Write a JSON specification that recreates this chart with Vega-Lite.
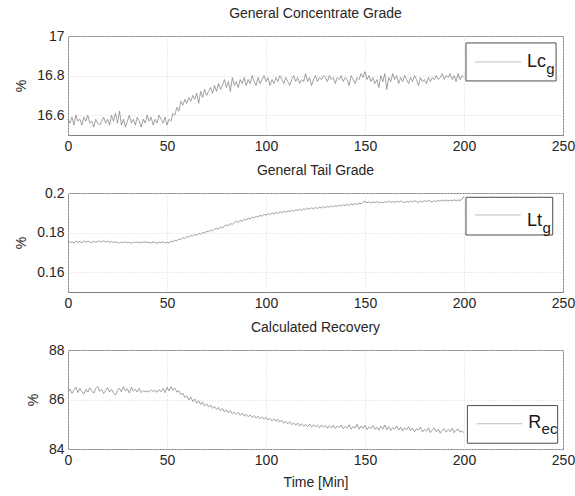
{
  "$schema": "https://vega.github.io/schema/vega-lite/v6.json",
  "background": "white",
  "padding": {"left": 14, "top": 6, "right": 5, "bottom": 5},
  "bounds": "flush",
  "spacing": 58,
  "datasets": {
    "process": [
      {"t":0,"lc":16.58,"lt":0.1756,"r":86.30},{"t":1,"lc":16.56,"lt":0.1750,"r":86.42},{"t":2,"lc":16.59,"lt":0.1754,"r":86.25},{"t":3,"lc":16.55,"lt":0.1748,"r":86.38},{"t":4,"lc":16.60,"lt":0.1757,"r":86.50},
      {"t":5,"lc":16.57,"lt":0.1751,"r":86.28},{"t":6,"lc":16.58,"lt":0.1755,"r":86.45},{"t":7,"lc":16.55,"lt":0.1749,"r":86.32},{"t":8,"lc":16.59,"lt":0.1758,"r":86.22},{"t":9,"lc":16.57,"lt":0.1752,"r":86.40},
      {"t":10,"lc":16.60,"lt":0.1756,"r":86.30},{"t":11,"lc":16.56,"lt":0.1753,"r":86.47},{"t":12,"lc":16.57,"lt":0.1749,"r":86.35},{"t":13,"lc":16.54,"lt":0.1757,"r":86.26},{"t":14,"lc":16.58,"lt":0.1751,"r":86.44},
      {"t":15,"lc":16.56,"lt":0.1754,"r":86.52},{"t":16,"lc":16.55,"lt":0.1758,"r":86.33},{"t":17,"lc":16.57,"lt":0.1752,"r":86.41},{"t":18,"lc":16.59,"lt":0.1760,"r":86.24},{"t":19,"lc":16.56,"lt":0.1753,"r":86.36},
      {"t":20,"lc":16.58,"lt":0.1756,"r":86.48},{"t":21,"lc":16.55,"lt":0.1750,"r":86.30},{"t":22,"lc":16.60,"lt":0.1755,"r":86.40},{"t":23,"lc":16.57,"lt":0.1749,"r":86.27},{"t":24,"lc":16.61,"lt":0.1753,"r":86.18},
      {"t":25,"lc":16.56,"lt":0.1751,"r":86.38},{"t":26,"lc":16.62,"lt":0.1747,"r":86.46},{"t":27,"lc":16.55,"lt":0.1752,"r":86.31},{"t":28,"lc":16.58,"lt":0.1749,"r":86.52},{"t":29,"lc":16.54,"lt":0.1754,"r":86.35},
      {"t":30,"lc":16.57,"lt":0.1748,"r":86.44},{"t":31,"lc":16.60,"lt":0.1751,"r":86.26},{"t":32,"lc":16.56,"lt":0.1746,"r":86.50},{"t":33,"lc":16.58,"lt":0.1752,"r":86.34},{"t":34,"lc":16.55,"lt":0.1750,"r":86.42},
      {"t":35,"lc":16.59,"lt":0.1753,"r":86.30},{"t":36,"lc":16.57,"lt":0.1748,"r":86.45},{"t":37,"lc":16.54,"lt":0.1752,"r":86.28},{"t":38,"lc":16.58,"lt":0.1750,"r":86.36},{"t":39,"lc":16.56,"lt":0.1754,"r":86.32},
      {"t":40,"lc":16.60,"lt":0.1749,"r":86.34},{"t":41,"lc":16.57,"lt":0.1751,"r":86.30},{"t":42,"lc":16.59,"lt":0.1748,"r":86.38},{"t":43,"lc":16.55,"lt":0.1753,"r":86.33},{"t":44,"lc":16.58,"lt":0.1750,"r":86.36},
      {"t":45,"lc":16.56,"lt":0.1746,"r":86.29},{"t":46,"lc":16.60,"lt":0.1752,"r":86.40},{"t":47,"lc":16.58,"lt":0.1749,"r":86.31},{"t":48,"lc":16.56,"lt":0.1754,"r":86.44},{"t":49,"lc":16.59,"lt":0.1747,"r":86.28},
      {"t":50,"lc":16.55,"lt":0.1751,"r":86.50},{"t":51,"lc":16.58,"lt":0.1748,"r":86.35},{"t":52,"lc":16.57,"lt":0.1756,"r":86.52},{"t":53,"lc":16.61,"lt":0.1753,"r":86.38},{"t":54,"lc":16.60,"lt":0.1762,"r":86.46},
      {"t":55,"lc":16.64,"lt":0.1758,"r":86.30},{"t":56,"lc":16.62,"lt":0.1768,"r":86.35},{"t":57,"lc":16.67,"lt":0.1764,"r":86.20},{"t":58,"lc":16.65,"lt":0.1775,"r":86.25},{"t":59,"lc":16.68,"lt":0.1770,"r":86.08},
      {"t":60,"lc":16.66,"lt":0.1781,"r":86.15},{"t":61,"lc":16.69,"lt":0.1776,"r":85.98},{"t":62,"lc":16.67,"lt":0.1786,"r":86.10},{"t":63,"lc":16.70,"lt":0.1782,"r":85.92},{"t":64,"lc":16.68,"lt":0.1791,"r":86.02},
      {"t":65,"lc":16.71,"lt":0.1787,"r":85.85},{"t":66,"lc":16.66,"lt":0.1796,"r":85.95},{"t":67,"lc":16.72,"lt":0.1792,"r":85.80},{"t":68,"lc":16.69,"lt":0.1801,"r":85.90},{"t":69,"lc":16.73,"lt":0.1797,"r":85.74},
      {"t":70,"lc":16.70,"lt":0.1807,"r":85.82},{"t":71,"lc":16.72,"lt":0.1803,"r":85.70},{"t":72,"lc":16.74,"lt":0.1813,"r":85.78},{"t":73,"lc":16.71,"lt":0.1809,"r":85.64},{"t":74,"lc":16.75,"lt":0.1818,"r":85.72},
      {"t":75,"lc":16.72,"lt":0.1822,"r":85.60},{"t":76,"lc":16.76,"lt":0.1817,"r":85.68},{"t":77,"lc":16.73,"lt":0.1828,"r":85.55},{"t":78,"lc":16.75,"lt":0.1823,"r":85.64},{"t":79,"lc":16.78,"lt":0.1834,"r":85.50},
      {"t":80,"lc":16.74,"lt":0.1839,"r":85.58},{"t":81,"lc":16.77,"lt":0.1834,"r":85.46},{"t":82,"lc":16.72,"lt":0.1846,"r":85.55},{"t":83,"lc":16.79,"lt":0.1841,"r":85.42},{"t":84,"lc":16.75,"lt":0.1852,"r":85.50},
      {"t":85,"lc":16.77,"lt":0.1858,"r":85.40},{"t":86,"lc":16.74,"lt":0.1851,"r":85.48},{"t":87,"lc":16.78,"lt":0.1862,"r":85.36},{"t":88,"lc":16.76,"lt":0.1857,"r":85.45},{"t":89,"lc":16.79,"lt":0.1868,"r":85.33},
      {"t":90,"lc":16.75,"lt":0.1864,"r":85.40},{"t":91,"lc":16.78,"lt":0.1873,"r":85.30},{"t":92,"lc":16.76,"lt":0.1869,"r":85.38},{"t":93,"lc":16.80,"lt":0.1878,"r":85.27},{"t":94,"lc":16.77,"lt":0.1874,"r":85.35},
      {"t":95,"lc":16.75,"lt":0.1883,"r":85.25},{"t":96,"lc":16.79,"lt":0.1879,"r":85.33},{"t":97,"lc":16.76,"lt":0.1887,"r":85.22},{"t":98,"lc":16.78,"lt":0.1883,"r":85.30},{"t":99,"lc":16.80,"lt":0.1892,"r":85.20},
      {"t":100,"lc":16.77,"lt":0.1888,"r":85.28},{"t":101,"lc":16.79,"lt":0.1896,"r":85.17},{"t":102,"lc":16.75,"lt":0.1891,"r":85.24},{"t":103,"lc":16.78,"lt":0.1899,"r":85.14},{"t":104,"lc":16.76,"lt":0.1894,"r":85.22},
      {"t":105,"lc":16.79,"lt":0.1902,"r":85.12},{"t":106,"lc":16.77,"lt":0.1897,"r":85.20},{"t":107,"lc":16.80,"lt":0.1905,"r":85.08},{"t":108,"lc":16.78,"lt":0.1900,"r":85.16},{"t":109,"lc":16.76,"lt":0.1908,"r":85.04},
      {"t":110,"lc":16.79,"lt":0.1903,"r":85.12},{"t":111,"lc":16.77,"lt":0.1910,"r":85.02},{"t":112,"lc":16.75,"lt":0.1906,"r":85.10},{"t":113,"lc":16.78,"lt":0.1913,"r":84.98},{"t":114,"lc":16.80,"lt":0.1908,"r":85.06},
      {"t":115,"lc":16.77,"lt":0.1915,"r":84.96},{"t":116,"lc":16.79,"lt":0.1911,"r":85.05},{"t":117,"lc":16.76,"lt":0.1918,"r":84.93},{"t":118,"lc":16.78,"lt":0.1913,"r":85.02},{"t":119,"lc":16.77,"lt":0.1920,"r":84.92},
      {"t":120,"lc":16.81,"lt":0.1916,"r":85.00},{"t":121,"lc":16.77,"lt":0.1923,"r":84.90},{"t":122,"lc":16.79,"lt":0.1918,"r":85.01},{"t":123,"lc":16.75,"lt":0.1925,"r":84.88},{"t":124,"lc":16.78,"lt":0.1920,"r":84.98},
      {"t":125,"lc":16.80,"lt":0.1927,"r":84.90},{"t":126,"lc":16.77,"lt":0.1922,"r":84.96},{"t":127,"lc":16.79,"lt":0.1929,"r":84.86},{"t":128,"lc":16.78,"lt":0.1924,"r":84.97},{"t":129,"lc":16.80,"lt":0.1931,"r":84.88},
      {"t":130,"lc":16.79,"lt":0.1926,"r":84.95},{"t":131,"lc":16.77,"lt":0.1933,"r":84.84},{"t":132,"lc":16.80,"lt":0.1928,"r":84.94},{"t":133,"lc":16.78,"lt":0.1935,"r":84.85},{"t":134,"lc":16.79,"lt":0.1930,"r":84.96},
      {"t":135,"lc":16.76,"lt":0.1937,"r":84.83},{"t":136,"lc":16.79,"lt":0.1932,"r":84.93},{"t":137,"lc":16.78,"lt":0.1939,"r":84.86},{"t":138,"lc":16.80,"lt":0.1934,"r":84.97},{"t":139,"lc":16.77,"lt":0.1941,"r":84.82},
      {"t":140,"lc":16.79,"lt":0.1936,"r":84.92},{"t":141,"lc":16.78,"lt":0.1943,"r":84.84},{"t":142,"lc":16.75,"lt":0.1938,"r":84.98},{"t":143,"lc":16.80,"lt":0.1945,"r":84.80},{"t":144,"lc":16.78,"lt":0.1940,"r":84.91},
      {"t":145,"lc":16.76,"lt":0.1947,"r":84.85},{"t":146,"lc":16.79,"lt":0.1942,"r":85.00},{"t":147,"lc":16.78,"lt":0.1950,"r":84.80},{"t":148,"lc":16.81,"lt":0.1945,"r":84.93},{"t":149,"lc":16.79,"lt":0.1953,"r":84.83},
      {"t":150,"lc":16.82,"lt":0.1958,"r":84.96},{"t":151,"lc":16.78,"lt":0.1950,"r":84.78},{"t":152,"lc":16.80,"lt":0.1956,"r":84.90},{"t":153,"lc":16.77,"lt":0.1948,"r":84.82},{"t":154,"lc":16.79,"lt":0.1955,"r":84.95},
      {"t":155,"lc":16.76,"lt":0.1951,"r":84.79},{"t":156,"lc":16.78,"lt":0.1957,"r":84.88},{"t":157,"lc":16.74,"lt":0.1949,"r":84.76},{"t":158,"lc":16.80,"lt":0.1954,"r":84.92},{"t":159,"lc":16.77,"lt":0.1950,"r":84.80},
      {"t":160,"lc":16.81,"lt":0.1956,"r":84.97},{"t":161,"lc":16.73,"lt":0.1952,"r":84.78},{"t":162,"lc":16.79,"lt":0.1959,"r":84.90},{"t":163,"lc":16.77,"lt":0.1953,"r":84.75},{"t":164,"lc":16.81,"lt":0.1957,"r":84.86},
      {"t":165,"lc":16.78,"lt":0.1951,"r":84.80},{"t":166,"lc":16.80,"lt":0.1958,"r":84.93},{"t":167,"lc":16.76,"lt":0.1954,"r":84.77},{"t":168,"lc":16.79,"lt":0.1960,"r":84.88},{"t":169,"lc":16.77,"lt":0.1955,"r":84.73},
      {"t":170,"lc":16.80,"lt":0.1952,"r":84.85},{"t":171,"lc":16.78,"lt":0.1958,"r":84.78},{"t":172,"lc":16.76,"lt":0.1953,"r":84.90},{"t":173,"lc":16.79,"lt":0.1959,"r":84.74},{"t":174,"lc":16.77,"lt":0.1955,"r":84.84},
      {"t":175,"lc":16.80,"lt":0.1961,"r":84.70},{"t":176,"lc":16.78,"lt":0.1956,"r":84.82},{"t":177,"lc":16.75,"lt":0.1952,"r":84.76},{"t":178,"lc":16.79,"lt":0.1959,"r":84.88},{"t":179,"lc":16.77,"lt":0.1955,"r":84.68},
      {"t":180,"lc":16.78,"lt":0.1961,"r":84.80},{"t":181,"lc":16.76,"lt":0.1957,"r":84.72},{"t":182,"lc":16.79,"lt":0.1963,"r":84.86},{"t":183,"lc":16.77,"lt":0.1958,"r":84.66},{"t":184,"lc":16.79,"lt":0.1955,"r":84.78},
      {"t":185,"lc":16.78,"lt":0.1961,"r":84.84},{"t":186,"lc":16.80,"lt":0.1957,"r":84.70},{"t":187,"lc":16.78,"lt":0.1963,"r":84.80},{"t":188,"lc":16.79,"lt":0.1958,"r":84.64},{"t":189,"lc":16.81,"lt":0.1964,"r":84.76},
      {"t":190,"lc":16.78,"lt":0.1960,"r":84.82},{"t":191,"lc":16.80,"lt":0.1965,"r":84.68},{"t":192,"lc":16.79,"lt":0.1959,"r":84.79},{"t":193,"lc":16.81,"lt":0.1964,"r":84.70},{"t":194,"lc":16.78,"lt":0.1961,"r":84.84},
      {"t":195,"lc":16.80,"lt":0.1966,"r":84.66},{"t":196,"lc":16.77,"lt":0.1960,"r":84.76},{"t":197,"lc":16.81,"lt":0.1965,"r":84.80},{"t":198,"lc":16.78,"lt":0.1962,"r":84.68},{"t":199,"lc":16.80,"lt":0.1968,"r":84.74},
      {"t":200,"lc":16.79,"lt":0.1985,"r":84.65}
    ]
  },
  "data": {"name": "process"},
  "vconcat": [
    {
      "title": {"text": "General Concentrate Grade"},
      "width": 495,
      "height": 99,
      "layer": [
        {
          "mark": {"type": "line", "color": "#7a7a7a", "strokeWidth": 0.7},
          "encoding": {
            "x": {"field": "t", "type": "quantitative", "scale": {"domain": [0, 250], "nice": false}, "axis": {"values": [0, 50, 100, 150, 200, 250], "title": null}},
            "y": {"field": "lc", "type": "quantitative", "scale": {"domain": [16.5, 17], "zero": false, "nice": false}, "axis": {"values": [16.6, 16.8, 17], "format": "~g", "title": "%"}}
          }
        },
        {
          "data": {"values": [{}]},
          "mark": {"type": "rect", "fill": "white", "stroke": "#4d4d4d", "strokeWidth": 1},
          "encoding": {
            "x": {"datum": 201.0, "type": "quantitative"}, "x2": {"datum": 246.5},
            "y": {"datum": 16.965, "type": "quantitative"}, "y2": {"datum": 16.773}
          }
        },
        {
          "data": {"values": [{}]},
          "mark": {"type": "rule", "color": "#bdbdbd", "strokeWidth": 1},
          "encoding": {
            "x": {"datum": 205.6, "type": "quantitative"}, "x2": {"datum": 228.8},
            "y": {"datum": 16.869, "type": "quantitative"}
          }
        },
        {
          "data": {"values": [{"label": "Lc"}]},
          "mark": {"type": "text", "align": "left", "baseline": "alphabetic", "fontSize": 18, "color": "#1a1a1a"},
          "encoding": {"text": {"field": "label"}, "x": {"datum": 231.8, "type": "quantitative"}, "y": {"datum": 16.843, "type": "quantitative"}}
        },
        {
          "data": {"values": [{"label": "g"}]},
          "mark": {"type": "text", "align": "left", "baseline": "alphabetic", "fontSize": 15, "color": "#1a1a1a"},
          "encoding": {"text": {"field": "label"}, "x": {"datum": 241.6, "type": "quantitative"}, "y": {"datum": 16.808, "type": "quantitative"}}
        }
      ]
    },
    {
      "title": {"text": "General Tail Grade"},
      "width": 495,
      "height": 99,
      "layer": [
        {
          "mark": {"type": "line", "color": "#7a7a7a", "strokeWidth": 0.7},
          "encoding": {
            "x": {"field": "t", "type": "quantitative", "scale": {"domain": [0, 250], "nice": false}, "axis": {"values": [0, 50, 100, 150, 200, 250], "title": null}},
            "y": {"field": "lt", "type": "quantitative", "scale": {"domain": [0.15, 0.2], "zero": false, "nice": false}, "axis": {"values": [0.16, 0.18, 0.2], "format": "~g", "title": "%"}}
          }
        },
        {
          "data": {"values": [{}]},
          "mark": {"type": "rect", "fill": "white", "stroke": "#4d4d4d", "strokeWidth": 1},
          "encoding": {
            "x": {"datum": 201.0, "type": "quantitative"}, "x2": {"datum": 244.8},
            "y": {"datum": 0.19783, "type": "quantitative"}, "y2": {"datum": 0.17879}
          }
        },
        {
          "data": {"values": [{}]},
          "mark": {"type": "rule", "color": "#bdbdbd", "strokeWidth": 1},
          "encoding": {
            "x": {"datum": 205.6, "type": "quantitative"}, "x2": {"datum": 228.6},
            "y": {"datum": 0.18889, "type": "quantitative"}
          }
        },
        {
          "data": {"values": [{"label": "Lt"}]},
          "mark": {"type": "text", "align": "left", "baseline": "alphabetic", "fontSize": 18, "color": "#1a1a1a"},
          "encoding": {"text": {"field": "label"}, "x": {"datum": 231.8, "type": "quantitative"}, "y": {"datum": 0.18334, "type": "quantitative"}}
        },
        {
          "data": {"values": [{"label": "g"}]},
          "mark": {"type": "text", "align": "left", "baseline": "alphabetic", "fontSize": 15, "color": "#1a1a1a"},
          "encoding": {"text": {"field": "label"}, "x": {"datum": 239.6, "type": "quantitative"}, "y": {"datum": 0.1798, "type": "quantitative"}}
        }
      ]
    },
    {
      "title": {"text": "Calculated Recovery"},
      "width": 495,
      "height": 99,
      "layer": [
        {
          "mark": {"type": "line", "color": "#7a7a7a", "strokeWidth": 0.7},
          "encoding": {
            "x": {"field": "t", "type": "quantitative", "scale": {"domain": [0, 250], "nice": false}, "axis": {"values": [0, 50, 100, 150, 200, 250], "title": "Time [Min]"}},
            "y": {"field": "r", "type": "quantitative", "scale": {"domain": [84, 88], "zero": false, "nice": false}, "axis": {"values": [84, 86, 88], "format": "~g", "title": "%"}}
          }
        },
        {
          "data": {"values": [{}]},
          "mark": {"type": "rect", "fill": "white", "stroke": "#4d4d4d", "strokeWidth": 1},
          "encoding": {
            "x": {"datum": 201.7, "type": "quantitative"}, "x2": {"datum": 247.3},
            "y": {"datum": 85.755, "type": "quantitative"}, "y2": {"datum": 84.233}
          }
        },
        {
          "data": {"values": [{}]},
          "mark": {"type": "rule", "color": "#bdbdbd", "strokeWidth": 1},
          "encoding": {
            "x": {"datum": 206.4, "type": "quantitative"}, "x2": {"datum": 229.4},
            "y": {"datum": 85.02, "type": "quantitative"}
          }
        },
        {
          "data": {"values": [{"label": "R"}]},
          "mark": {"type": "text", "align": "left", "baseline": "alphabetic", "fontSize": 18, "color": "#1a1a1a"},
          "encoding": {"text": {"field": "label"}, "x": {"datum": 232.5, "type": "quantitative"}, "y": {"datum": 84.845, "type": "quantitative"}}
        },
        {
          "data": {"values": [{"label": "ec"}]},
          "mark": {"type": "text", "align": "left", "baseline": "alphabetic", "fontSize": 15, "color": "#1a1a1a"},
          "encoding": {"text": {"field": "label"}, "x": {"datum": 239.2, "type": "quantitative"}, "y": {"datum": 84.61, "type": "quantitative"}}
        }
      ]
    }
  ],
  "config": {
    "font": "Liberation Sans",
    "view": {"stroke": "#808080", "strokeWidth": 1},
    "axis": {
      "labelFontSize": 14, "labelColor": "#262626", "labelFlush": false, "labelPadding": 4,
      "titleFontSize": 14, "titleFontWeight": "normal", "titleColor": "#262626", "titlePadding": 8,
      "grid": true, "gridColor": "#d9d9d9", "gridDash": [1, 2], "domain": false, "ticks": false
    },
    "title": {"fontSize": 14, "fontWeight": "normal", "color": "#262626", "offset": 8}
  }
}
